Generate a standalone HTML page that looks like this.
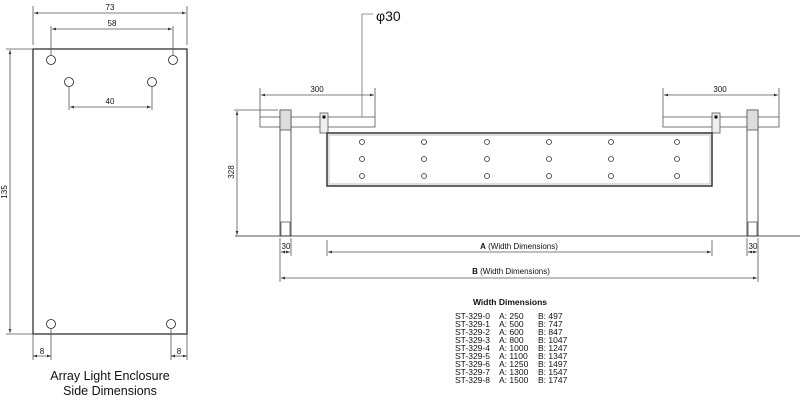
<!DOCTYPE html>
<html><head><style>
html,body{margin:0;padding:0;background:#fff;width:800px;height:400px;overflow:hidden}
svg text{font-family:"Liberation Sans",sans-serif;fill:#111}
</style></head><body>
<svg width="800" height="400" viewBox="0 0 800 400" xmlns="http://www.w3.org/2000/svg">
<defs>
<marker id="a" viewBox="0 0 6 6" refX="6" refY="3" markerWidth="5" markerHeight="5" orient="auto-start-reverse"><path d="M0,1 L6,3 L0,5z" fill="#333"/></marker>
</defs>
<g stroke="#555" stroke-width="0.8" fill="none">
<!-- left panel -->
<rect x="33" y="49" width="154" height="285" stroke="#222" stroke-width="1.2"/>
<circle cx="51" cy="60" r="4.5" stroke="#222"/>
<circle cx="173" cy="60" r="4.5" stroke="#222"/>
<circle cx="69" cy="82" r="4.5" stroke="#222"/>
<circle cx="152" cy="82" r="4.5" stroke="#222"/>
<circle cx="51" cy="324" r="4.5" stroke="#222"/>
<circle cx="171" cy="324" r="4.5" stroke="#222"/>
<line x1="33" y1="6" x2="33" y2="45"/><line x1="187" y1="6" x2="187" y2="45"/>
<line x1="34" y1="13" x2="186" y2="13" marker-start="url(#a)" marker-end="url(#a)"/>
<line x1="51" y1="26" x2="51" y2="55"/><line x1="173" y1="26" x2="173" y2="55"/>
<line x1="52" y1="29" x2="172" y2="29" marker-start="url(#a)" marker-end="url(#a)"/>
<line x1="69" y1="87" x2="69" y2="110"/><line x1="152" y1="87" x2="152" y2="110"/>
<line x1="70" y1="107" x2="151" y2="107" marker-start="url(#a)" marker-end="url(#a)"/>
<line x1="6" y1="49" x2="33" y2="49"/><line x1="6" y1="334" x2="33" y2="334"/>
<line x1="10" y1="50" x2="10" y2="333" marker-start="url(#a)" marker-end="url(#a)"/>
<line x1="33" y1="334" x2="33" y2="360"/><line x1="51" y1="329" x2="51" y2="360"/>
<line x1="171" y1="329" x2="171" y2="360"/><line x1="187" y1="334" x2="187" y2="360"/>
<line x1="33" y1="356" x2="51" y2="356" marker-start="url(#a)" marker-end="url(#a)"/>
<line x1="171" y1="356" x2="187" y2="356" marker-start="url(#a)" marker-end="url(#a)"/>
<!-- right drawing -->
<line x1="235" y1="236" x2="800" y2="236" stroke="#777" stroke-width="1.2"/>
<rect x="260" y="117" width="115" height="10"/>
<rect x="663" y="117" width="116" height="10"/>
<rect x="280" y="110" width="11" height="126" stroke="#333"/>
<rect x="747" y="110" width="11" height="126" stroke="#333"/>
<rect x="280" y="110" width="11" height="20" fill="#ddd"/>
<rect x="747" y="110" width="11" height="20" fill="#ddd"/>
<rect x="281" y="222" width="9" height="14"/><rect x="748" y="222" width="9" height="14"/>
<rect x="320" y="113" width="8" height="20" fill="#eee"/>
<rect x="712" y="113" width="8" height="20" fill="#eee"/>
<circle cx="324" cy="117" r="1.5" fill="#111"/><circle cx="716" cy="117" r="1.5" fill="#111"/>
<rect x="327" y="133" width="385" height="53" stroke="#333" stroke-width="1.5"/>
<rect x="329" y="135" width="381" height="49" stroke="#999" stroke-width="0.6"/>
<g stroke="#333">
<circle cx="362" cy="142" r="2.5"/><circle cx="362" cy="159" r="2.5"/><circle cx="362" cy="176" r="2.5"/>
<circle cx="424" cy="142" r="2.5"/><circle cx="424" cy="159" r="2.5"/><circle cx="424" cy="176" r="2.5"/>
<circle cx="487" cy="142" r="2.5"/><circle cx="487" cy="159" r="2.5"/><circle cx="487" cy="176" r="2.5"/>
<circle cx="549" cy="142" r="2.5"/><circle cx="549" cy="159" r="2.5"/><circle cx="549" cy="176" r="2.5"/>
<circle cx="611" cy="142" r="2.5"/><circle cx="611" cy="159" r="2.5"/><circle cx="611" cy="176" r="2.5"/>
<circle cx="677" cy="142" r="2.5"/><circle cx="677" cy="159" r="2.5"/><circle cx="677" cy="176" r="2.5"/>
</g>
<polyline points="373,14 362,14 362,117" stroke="#777"/>
<line x1="260" y1="88" x2="260" y2="117"/><line x1="375" y1="88" x2="375" y2="117"/>
<line x1="261" y1="95" x2="374" y2="95" marker-start="url(#a)" marker-end="url(#a)"/>
<line x1="663" y1="88" x2="663" y2="117"/><line x1="779" y1="88" x2="779" y2="117"/>
<line x1="664" y1="95" x2="778" y2="95" marker-start="url(#a)" marker-end="url(#a)"/>
<line x1="234" y1="110" x2="278" y2="110"/>
<line x1="237" y1="111" x2="237" y2="235" marker-start="url(#a)" marker-end="url(#a)"/>
<line x1="280" y1="238" x2="280" y2="282"/><line x1="291" y1="238" x2="291" y2="256"/>
<line x1="281" y1="252" x2="290" y2="252" marker-start="url(#a)" marker-end="url(#a)"/>
<line x1="747" y1="238" x2="747" y2="256"/><line x1="758" y1="238" x2="758" y2="282"/>
<line x1="748" y1="252" x2="757" y2="252" marker-start="url(#a)" marker-end="url(#a)"/>
<line x1="327" y1="240" x2="327" y2="256"/><line x1="712" y1="240" x2="712" y2="256"/>
<line x1="328" y1="252" x2="711" y2="252" marker-start="url(#a)" marker-end="url(#a)"/>
<line x1="281" y1="278" x2="757" y2="278" marker-start="url(#a)" marker-end="url(#a)"/>
</g>
<g font-size="8" text-anchor="middle">
<text x="110" y="10">73</text><text x="112" y="26">58</text><text x="110" y="104">40</text>
<text x="42" y="354">8</text><text x="179" y="354">8</text>
<text x="7" y="192" transform="rotate(-90 7 192)">135</text>
<text x="317" y="92">300</text><text x="720" y="92">300</text>
<text x="234" y="172" transform="rotate(-90 234 172)">328</text>
<text x="286" y="249">30</text><text x="753" y="249">30</text>
<text x="519" y="249"><tspan font-weight="bold">A</tspan> (Width Dimensions)</text>
<text x="511" y="274"><tspan font-weight="bold">B</tspan> (Width Dimensions)</text>
</g>
<text x="376" y="21" font-size="14">φ30</text>
<g font-size="12.5" text-anchor="middle">
<text x="110" y="380">Array Light Enclosure</text>
<text x="110" y="395">Side Dimensions</text>
</g>
<text x="510" y="305" font-size="8.5" font-weight="bold" text-anchor="middle">Width Dimensions</text>
<g font-size="8.5">
<text x="455" y="319">ST-329-0</text><text x="499" y="319">A: 250</text><text x="538" y="319">B: 497</text>
<text x="455" y="327">ST-329-1</text><text x="499" y="327">A: 500</text><text x="538" y="327">B: 747</text>
<text x="455" y="335">ST-329-2</text><text x="499" y="335">A: 600</text><text x="538" y="335">B: 847</text>
<text x="455" y="343">ST-329-3</text><text x="499" y="343">A: 800</text><text x="538" y="343">B: 1047</text>
<text x="455" y="351">ST-329-4</text><text x="499" y="351">A: 1000</text><text x="538" y="351">B: 1247</text>
<text x="455" y="359">ST-329-5</text><text x="499" y="359">A: 1100</text><text x="538" y="359">B: 1347</text>
<text x="455" y="367">ST-329-6</text><text x="499" y="367">A: 1250</text><text x="538" y="367">B: 1497</text>
<text x="455" y="375">ST-329-7</text><text x="499" y="375">A: 1300</text><text x="538" y="375">B: 1547</text>
<text x="455" y="383">ST-329-8</text><text x="499" y="383">A: 1500</text><text x="538" y="383">B: 1747</text>
</g>
</svg>
</body></html>
